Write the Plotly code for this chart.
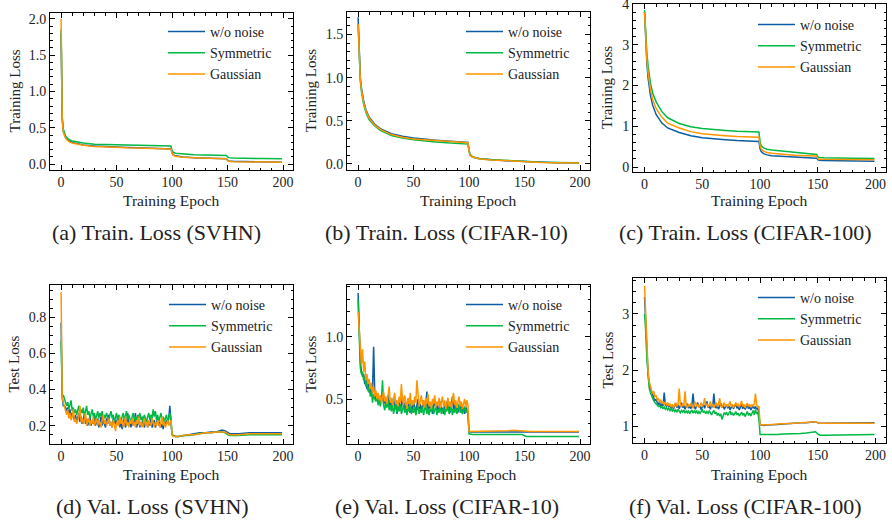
import plotly.graph_objects as go

# ---------------- data ----------------
series_names = ["w/o noise", "Symmetric", "Gaussian"]
series_colors = ["#0C5DA5", "#00B945", "#FF9500"]

ep_train = [0, 1, 2, 3, 4, 5, 7, 10, 15, 20, 30, 40, 50, 60, 70, 80, 90, 99, 100, 101, 103, 106,
            110, 120, 130, 140, 149, 150, 151, 155, 165, 180, 199]

svhn_train_clean = [1.80, 0.62, 0.45, 0.40, 0.37, 0.35, 0.32, 0.30, 0.28, 0.265, 0.25, 0.24, 0.235, 0.23, 0.225, 0.22, 0.215, 0.21,
                    0.16, 0.13, 0.115, 0.105, 0.10, 0.09, 0.085, 0.08, 0.075, 0.055, 0.045, 0.04, 0.035, 0.03, 0.025]
svhn_train_sym = [1.85, 0.65, 0.48, 0.42, 0.39, 0.37, 0.34, 0.32, 0.30, 0.29, 0.275, 0.27, 0.265, 0.26, 0.258, 0.255, 0.252, 0.25,
                  0.19, 0.165, 0.15, 0.145, 0.14, 0.13, 0.125, 0.12, 0.118, 0.10, 0.09, 0.085, 0.08, 0.078, 0.075]
svhn_train_gauss = [2.00, 0.60, 0.44, 0.39, 0.36, 0.34, 0.31, 0.29, 0.275, 0.26, 0.245, 0.235, 0.23, 0.225, 0.222, 0.218, 0.215, 0.21,
                    0.155, 0.125, 0.11, 0.10, 0.095, 0.088, 0.082, 0.078, 0.075, 0.05, 0.04, 0.035, 0.032, 0.03, 0.028]

c10_train_clean = [1.70, 1.25, 1.00, 0.88, 0.80, 0.73, 0.63, 0.54, 0.46, 0.41, 0.35, 0.32, 0.30, 0.285, 0.275, 0.265, 0.255, 0.25,
                   0.16, 0.11, 0.085, 0.07, 0.06, 0.048, 0.04, 0.033, 0.028, 0.026, 0.025, 0.022, 0.018, 0.014, 0.012]
c10_train_sym = [1.62, 1.20, 0.96, 0.84, 0.76, 0.69, 0.60, 0.51, 0.44, 0.39, 0.33, 0.30, 0.28, 0.265, 0.255, 0.245, 0.235, 0.23,
                 0.15, 0.10, 0.08, 0.068, 0.06, 0.05, 0.042, 0.035, 0.03, 0.028, 0.027, 0.024, 0.02, 0.016, 0.013]
c10_train_gauss = [1.62, 1.22, 0.98, 0.86, 0.78, 0.71, 0.62, 0.53, 0.45, 0.40, 0.34, 0.31, 0.29, 0.28, 0.27, 0.26, 0.25, 0.245,
                   0.15, 0.10, 0.08, 0.068, 0.058, 0.047, 0.04, 0.033, 0.028, 0.026, 0.025, 0.022, 0.018, 0.014, 0.012]

c100_train_clean = [3.80, 3.00, 2.55, 2.20, 1.95, 1.78, 1.52, 1.29, 1.08, 0.96, 0.85, 0.77, 0.72, 0.69, 0.67, 0.65, 0.64, 0.63,
                    0.45, 0.38, 0.33, 0.30, 0.28, 0.26, 0.24, 0.23, 0.22, 0.18, 0.165, 0.16, 0.155, 0.15, 0.145]
c100_train_sym = [3.85, 3.20, 2.80, 2.50, 2.25, 2.08, 1.82, 1.60, 1.36, 1.21, 1.07, 0.99, 0.95, 0.92, 0.90, 0.88, 0.87, 0.86,
                  0.62, 0.52, 0.47, 0.44, 0.42, 0.39, 0.36, 0.33, 0.31, 0.25, 0.235, 0.23, 0.22, 0.215, 0.21]
c100_train_gauss = [3.80, 3.10, 2.65, 2.32, 2.08, 1.92, 1.66, 1.44, 1.22, 1.08, 0.96, 0.87, 0.82, 0.79, 0.77, 0.75, 0.74, 0.73,
                    0.52, 0.44, 0.39, 0.36, 0.34, 0.31, 0.29, 0.28, 0.27, 0.21, 0.195, 0.19, 0.185, 0.18, 0.18]

ep_val_head = list(range(0, 101))
ep_val_tail = [101, 103, 106, 110, 115, 120, 125, 130, 135, 140, 145, 148, 150, 152, 155, 160, 170, 180, 190, 199]

svhn_val_clean = [0.77, 0.36, 0.31, 0.31, 0.30, 0.28, 0.30, 0.26, 0.29, 0.24, 0.27, 0.25, 0.23, 0.26, 0.22, 0.24, 0.27, 0.22, 0.25, 0.21,
                  0.23, 0.26, 0.21, 0.24, 0.20, 0.22, 0.25, 0.20, 0.23, 0.21, 0.26, 0.20, 0.22, 0.24, 0.19, 0.22, 0.25, 0.20, 0.23, 0.21,
                  0.19, 0.24, 0.21, 0.26, 0.20, 0.22, 0.19, 0.24, 0.21, 0.23, 0.20, 0.25, 0.21, 0.19, 0.23, 0.18, 0.22, 0.24, 0.19, 0.21,
                  0.27, 0.20, 0.22, 0.19, 0.24, 0.20, 0.22, 0.27, 0.19, 0.21, 0.23, 0.19, 0.22, 0.20, 0.25, 0.19, 0.21, 0.23, 0.19, 0.22,
                  0.20, 0.24, 0.19, 0.21, 0.23, 0.19, 0.21, 0.25, 0.20, 0.22, 0.19, 0.21, 0.18, 0.22, 0.20, 0.23, 0.21, 0.24, 0.31, 0.22,
                  0.15,
                  0.145, 0.14, 0.14, 0.145, 0.15, 0.155, 0.16, 0.16, 0.165, 0.165, 0.175, 0.17, 0.16, 0.155, 0.155, 0.155, 0.16, 0.16, 0.16, 0.16]
svhn_val_sym = [0.67, 0.36, 0.37, 0.34, 0.33, 0.31, 0.33, 0.29, 0.32, 0.34, 0.28, 0.30, 0.27, 0.29, 0.26, 0.28, 0.31, 0.26, 0.29, 0.27,
                0.30, 0.25, 0.28, 0.31, 0.26, 0.28, 0.24, 0.27, 0.29, 0.25, 0.27, 0.23, 0.26, 0.28, 0.24, 0.27, 0.25, 0.28, 0.23, 0.26,
                0.24, 0.27, 0.25, 0.22, 0.26, 0.28, 0.24, 0.26, 0.22, 0.25, 0.27, 0.23, 0.26, 0.24, 0.22, 0.25, 0.27, 0.23, 0.25, 0.28,
                0.23, 0.26, 0.24, 0.22, 0.25, 0.27, 0.23, 0.25, 0.22, 0.26, 0.24, 0.27, 0.23, 0.25, 0.22, 0.26, 0.24, 0.22, 0.25, 0.27,
                0.23, 0.26, 0.24, 0.29, 0.25, 0.28, 0.23, 0.26, 0.22, 0.25, 0.27, 0.23, 0.25, 0.22, 0.24, 0.26, 0.22, 0.25, 0.27, 0.24,
                0.15,
                0.145, 0.14, 0.14, 0.145, 0.145, 0.15, 0.155, 0.16, 0.16, 0.165, 0.165, 0.16, 0.15, 0.145, 0.145, 0.145, 0.15, 0.15, 0.15, 0.15]
svhn_val_gauss = [0.94, 0.35, 0.33, 0.30, 0.28, 0.26, 0.29, 0.24, 0.27, 0.23, 0.25, 0.29, 0.22, 0.24, 0.21, 0.23, 0.25, 0.31, 0.22, 0.24,
                  0.21, 0.23, 0.27, 0.20, 0.22, 0.24, 0.20, 0.23, 0.21, 0.25, 0.20, 0.22, 0.24, 0.20, 0.23, 0.21, 0.19, 0.23, 0.26, 0.21,
                  0.23, 0.20, 0.22, 0.24, 0.20, 0.22, 0.19, 0.23, 0.21, 0.17, 0.21, 0.23, 0.20, 0.25, 0.21, 0.23, 0.19, 0.22, 0.25, 0.20,
                  0.22, 0.19, 0.23, 0.21, 0.24, 0.20, 0.22, 0.19, 0.23, 0.21, 0.25, 0.20, 0.22, 0.19, 0.21, 0.24, 0.20, 0.22, 0.19, 0.23,
                  0.21, 0.20, 0.24, 0.21, 0.19, 0.22, 0.20, 0.23, 0.21, 0.19, 0.22, 0.25, 0.20, 0.22, 0.19, 0.21, 0.23, 0.20, 0.22, 0.23,
                  0.15,
                  0.14, 0.14, 0.14, 0.145, 0.15, 0.15, 0.155, 0.16, 0.16, 0.165, 0.165, 0.165, 0.155, 0.15, 0.15, 0.15, 0.155, 0.155, 0.155, 0.155]

c10_val_clean = [1.35, 1.05, 0.80, 0.72, 0.68, 0.70, 0.62, 0.66, 0.58, 0.63, 0.55, 0.60, 0.53, 0.57, 0.92, 0.55, 0.50, 0.54, 0.49, 0.52,
                 0.47, 0.50, 0.55, 0.46, 0.51, 0.44, 0.48, 0.53, 0.45, 0.49, 0.43, 0.47, 0.51, 0.42, 0.46, 0.38, 0.44, 0.49, 0.41, 0.45,
                 0.52, 0.43, 0.47, 0.40, 0.45, 0.50, 0.42, 0.39, 0.46, 0.41, 0.48, 0.43, 0.39, 0.45, 0.50, 0.42, 0.46, 0.40, 0.44, 0.49,
                 0.41, 0.45, 0.56, 0.42, 0.47, 0.40, 0.44, 0.38, 0.45, 0.50, 0.41, 0.46, 0.39, 0.44, 0.48, 0.40, 0.43, 0.38, 0.46, 0.41,
                 0.48, 0.42, 0.45, 0.39, 0.44, 0.52, 0.41, 0.46, 0.40, 0.43, 0.39, 0.45, 0.42, 0.47, 0.40, 0.43, 0.38, 0.44, 0.41, 0.39,
                 0.24,
                 0.235, 0.235, 0.235, 0.235, 0.235, 0.235, 0.235, 0.235, 0.235, 0.235, 0.24, 0.235, 0.235, 0.235, 0.235, 0.235, 0.235, 0.235, 0.235, 0.235]
c10_val_sym = [1.30, 1.00, 0.75, 0.70, 0.72, 0.65, 0.68, 0.60, 0.64, 0.56, 0.60, 0.52, 0.56, 0.47, 0.54, 0.50, 0.48, 0.53, 0.45, 0.50,
               0.44, 0.49, 0.65, 0.45, 0.41, 0.47, 0.43, 0.49, 0.41, 0.45, 0.40, 0.46, 0.38, 0.43, 0.47, 0.39, 0.44, 0.40, 0.46, 0.38,
               0.42, 0.45, 0.39, 0.43, 0.37, 0.44, 0.40, 0.47, 0.38, 0.42, 0.39, 0.44, 0.37, 0.41, 0.45, 0.38, 0.42, 0.39, 0.44, 0.37,
               0.41, 0.46, 0.38, 0.42, 0.37, 0.43, 0.40, 0.45, 0.38, 0.41, 0.44, 0.37, 0.42, 0.39, 0.45, 0.38, 0.41, 0.43, 0.37, 0.42,
               0.40, 0.46, 0.38, 0.41, 0.44, 0.37, 0.42, 0.39, 0.44, 0.38, 0.41, 0.46, 0.39, 0.42, 0.38, 0.41, 0.44, 0.39, 0.42, 0.38,
               0.22,
               0.22, 0.215, 0.215, 0.215, 0.215, 0.215, 0.215, 0.215, 0.215, 0.215, 0.22, 0.215, 0.205, 0.20, 0.20, 0.20, 0.20, 0.20, 0.20, 0.20]
c10_val_gauss = [1.20, 1.02, 0.85, 0.78, 0.90, 0.72, 0.80, 0.65, 0.70, 0.62, 0.66, 0.58, 0.63, 0.55, 0.60, 0.52, 0.57, 0.50, 0.55, 0.49,
                 0.53, 0.47, 0.51, 0.56, 0.48, 0.52, 0.46, 0.54, 0.60, 0.47, 0.51, 0.45, 0.50, 0.55, 0.46, 0.49, 0.44, 0.52, 0.47, 0.62,
                 0.50, 0.45, 0.53, 0.47, 0.42, 0.51, 0.46, 0.55, 0.44, 0.49, 0.45, 0.52, 0.47, 0.65, 0.50, 0.44, 0.48, 0.53, 0.45, 0.49,
                 0.43, 0.51, 0.46, 0.54, 0.44, 0.48, 0.42, 0.50, 0.46, 0.53, 0.43, 0.48, 0.45, 0.51, 0.43, 0.47, 0.52, 0.44, 0.49, 0.42,
                 0.47, 0.51, 0.44, 0.48, 0.43, 0.50, 0.55, 0.45, 0.49, 0.43, 0.47, 0.52, 0.44, 0.48, 0.42, 0.46, 0.50, 0.43, 0.49, 0.45,
                 0.24,
                 0.24, 0.24, 0.24, 0.24, 0.24, 0.24, 0.245, 0.245, 0.245, 0.25, 0.245, 0.245, 0.24, 0.24, 0.24, 0.24, 0.24, 0.24, 0.24, 0.24]

c100_val_clean = [3.30, 2.85, 2.30, 1.95, 1.75, 1.68, 1.62, 1.55, 1.50, 1.45, 1.48, 1.42, 1.38, 1.44, 1.33, 1.40, 1.36, 1.60, 1.38, 1.35,
                  1.41, 1.34, 1.38, 1.32, 1.37, 1.30, 1.36, 1.41, 1.33, 1.38, 1.31, 1.36, 1.42, 1.33, 1.37, 1.30, 1.35, 1.40, 1.32, 1.36,
                  1.31, 1.38, 1.58, 1.35, 1.30, 1.37, 1.42, 1.33, 1.36, 1.29, 1.35, 1.40, 1.32, 1.37, 1.44, 1.33, 1.36, 1.30, 1.38, 1.34,
                  1.58, 1.36, 1.32, 1.38, 1.30, 1.35, 1.41, 1.33, 1.37, 1.30, 1.35, 1.39, 1.32, 1.36, 1.29, 1.34, 1.38, 1.31, 1.36, 1.40,
                  1.32, 1.35, 1.29, 1.34, 1.39, 1.31, 1.36, 1.30, 1.34, 1.38, 1.31, 1.35, 1.29, 1.34, 1.37, 1.31, 1.35, 1.30, 1.33, 1.22,
                  1.02,
                  1.02, 1.01, 1.02, 1.03, 1.03, 1.04, 1.05, 1.05, 1.06, 1.06, 1.07, 1.08, 1.06, 1.05, 1.05, 1.05, 1.05, 1.05, 1.06, 1.06]
c100_val_sym = [3.00, 2.70, 2.20, 1.85, 1.68, 1.60, 1.55, 1.48, 1.45, 1.42, 1.40, 1.38, 1.35, 1.37, 1.33, 1.36, 1.31, 1.34, 1.30, 1.33,
                1.29, 1.32, 1.28, 1.31, 1.27, 1.30, 1.26, 1.29, 1.25, 1.30, 1.27, 1.24, 1.28, 1.25, 1.29, 1.23, 1.27, 1.24, 1.28, 1.22,
                1.26, 1.29, 1.23, 1.27, 1.24, 1.28, 1.22, 1.26, 1.23, 1.27, 1.30, 1.24, 1.27, 1.22, 1.26, 1.23, 1.27, 1.24, 1.20, 1.25,
                1.28, 1.22, 1.25, 1.19, 1.23, 1.18, 1.22, 1.12, 1.20, 1.24, 1.21, 1.25, 1.19, 1.23, 1.27, 1.20, 1.24, 1.19, 1.22, 1.26,
                1.20, 1.23, 1.18, 1.22, 1.25, 1.19, 1.23, 1.17, 1.21, 1.26, 1.19, 1.23, 1.18, 1.22, 1.28, 1.20, 1.30, 1.22, 1.25, 1.12,
                0.85,
                0.85, 0.85, 0.84, 0.85, 0.85, 0.86, 0.86, 0.87, 0.87, 0.88, 0.89, 0.90, 0.86, 0.84, 0.84, 0.84, 0.85, 0.85, 0.85, 0.85]
c100_val_gauss = [3.50, 2.95, 2.40, 2.00, 1.80, 1.70, 1.64, 1.58, 1.62, 1.52, 1.55, 1.46, 1.50, 1.42, 1.47, 1.40, 1.44, 1.38, 1.43, 1.37,
                  1.42, 1.36, 1.40, 1.34, 1.39, 1.33, 1.37, 1.42, 1.35, 1.39, 1.67, 1.38, 1.34, 1.40, 1.36, 1.62, 1.38, 1.33, 1.39, 1.35,
                  1.41, 1.36, 1.32, 1.38, 1.43, 1.35, 1.39, 1.33, 1.37, 1.42, 1.35, 1.39, 1.50, 1.36, 1.40, 1.34, 1.38, 1.44, 1.35, 1.39,
                  1.33, 1.37, 1.42, 1.35, 1.39, 1.50, 1.36, 1.33, 1.38, 1.42, 1.35, 1.39, 1.34, 1.38, 1.44, 1.35, 1.39, 1.33, 1.37, 1.42,
                  1.36, 1.40, 1.34, 1.38, 1.45, 1.35, 1.39, 1.33, 1.37, 1.41, 1.35, 1.39, 1.34, 1.38, 1.36, 1.40, 1.58, 1.37, 1.34, 1.36,
                  1.02,
                  1.02, 1.02, 1.03, 1.03, 1.04, 1.04, 1.05, 1.05, 1.06, 1.07, 1.07, 1.08, 1.06, 1.05, 1.05, 1.05, 1.05, 1.05, 1.05, 1.05]

y_titles = ["Training Loss", "Training Loss", "Training Loss", "Test Loss", "Test Loss", "Test Loss"]
x_title = "Training Epoch"
captions = ["(a) Train. Loss (SVHN)", "(b) Train. Loss (CIFAR-10)", "(c) Train. Loss (CIFAR-100)",
            "(d) Val. Loss (SVHN)", "(e) Val. Loss (CIFAR-10)", "(f) Val. Loss (CIFAR-100)"]

ep_val = ep_val_head + ep_val_tail
panels = [
    (ep_train, [svhn_train_clean, svhn_train_sym, svhn_train_gauss]),
    (ep_train, [c10_train_clean, c10_train_sym, c10_train_gauss]),
    (ep_train, [c100_train_clean, c100_train_sym, c100_train_gauss]),
    (ep_val, [svhn_val_clean, svhn_val_sym, svhn_val_gauss]),
    (ep_val, [c10_val_clean, c10_val_sym, c10_val_gauss]),
    (ep_val, [c100_val_clean, c100_val_sym, c100_val_gauss]),
]

# ---------------- layout (pixel geometry, in window pixels) ----------------
W, H = 892, 522
FONT = "Liberation Serif, Times New Roman, serif"
boxes = [(50, 293, 13, 170), (347, 590, 12, 170), (633, 886, 4, 172),
         (50, 293, 285, 444), (347, 590, 285, 444), (633, 886, 278, 443)]
y_ranges = [[-0.08, 2.08], [-0.07, 1.76], [-0.12, 4.001], [0.098, 0.98], [0.139, 1.415], [0.70, 3.64]]
y_dticks = [0.5, 0.5, 1, 0.2, 0.5, 1]
y_minor = [0.1, 0.1, 0.2, 0.05, 0.1, 0.2]
y_fmt = [".1f", ".1f", "d", ".1f", ".1f", "d"]
legend_pos = [(163, 16), (461, 16), (753, 9), (164, 289), (461, 289), (753, 282)]
ytitle_x = [14, 311, 607, 13, 310, 607]
xtitle_y = [200, 200, 200, 474, 474, 474]
cap_pos = [(156, 232), (446, 232), (745, 232), (152, 506), (447, 506), (745, 506)]


def px_x(v):
    return v / W


def px_y(v):
    return 1 - v / H


fig = go.Figure()
layout = dict(width=W, height=H, autosize=False, margin=dict(l=0, r=0, t=0, b=0, autoexpand=False),
              paper_bgcolor="white", plot_bgcolor="white", font=dict(family=FONT, color="#222"),
              annotations=[])

for i, (xs, ys) in enumerate(panels):
    k = "" if i == 0 else str(i + 1)
    leg = "legend" if i == 0 else f"legend{i + 1}"
    for name, color, yv in zip(series_names, series_colors, ys):
        fig.add_trace(go.Scatter(x=xs, y=yv, mode="lines", name=name,
                                 line=dict(color=color, width=1.5),
                                 xaxis="x" + k, yaxis="y" + k, legend=leg, showlegend=True))
    l, r, t, b = boxes[i]
    common = dict(showline=True, linecolor="black", linewidth=1, mirror="allticks",
                  ticks="inside", ticklen=5, tickwidth=1, tickcolor="black",
                  showgrid=False, zeroline=False, automargin=False, ticklabeloverflow="allow",
                  tickfont=dict(family=FONT, size=14, color="#222"))
    layout["xaxis" + k] = dict(common, domain=[px_x(l), px_x(r)], anchor="y" + k,
                               range=[-10, 209], tick0=0, dtick=50, ticklabelstandoff=-1,
                               minor=dict(ticks="inside", ticklen=2.5, dtick=10, tickcolor="black", tickwidth=0.8))
    layout["yaxis" + k] = dict(common, domain=[px_y(b), px_y(t)], anchor="x" + k,
                               range=y_ranges[i], tick0=0, dtick=y_dticks[i], tickformat=y_fmt[i],
                               minor=dict(ticks="inside", ticklen=2.5, dtick=y_minor[i], tickcolor="black", tickwidth=0.8))
    lx, ly = legend_pos[i]
    layout[leg] = dict(x=px_x(lx), y=px_y(ly), xanchor="left", yanchor="top",
                       bgcolor="rgba(0,0,0,0)", borderwidth=0, tracegroupgap=0, itemwidth=37,
                       font=dict(family=FONT, size=14, color="#222"))
    layout["annotations"].append(dict(text=y_titles[i], x=px_x(ytitle_x[i]), y=px_y((t + b) / 2),
                                      xref="paper", yref="paper", showarrow=False, textangle=-90,
                                      xanchor="center", yanchor="middle",
                                      font=dict(family=FONT, size=15, color="#222")))
    layout["annotations"].append(dict(text=x_title, x=px_x((l + r) / 2), y=px_y(xtitle_y[i]),
                                      xref="paper", yref="paper", showarrow=False,
                                      xanchor="center", yanchor="middle",
                                      font=dict(family=FONT, size=15.5, color="#222")))
    cx, cy = cap_pos[i]
    layout["annotations"].append(dict(text=captions[i], x=px_x(cx), y=px_y(cy),
                                      xref="paper", yref="paper", showarrow=False,
                                      xanchor="center", yanchor="middle",
                                      font=dict(family=FONT, size=22, color="#222")))

fig.update_layout(**layout)
fig.write_html("out.html", config={"displayModeBar": False},
               post_script="document.body.style.margin='0';document.body.style.overflow='hidden';")
